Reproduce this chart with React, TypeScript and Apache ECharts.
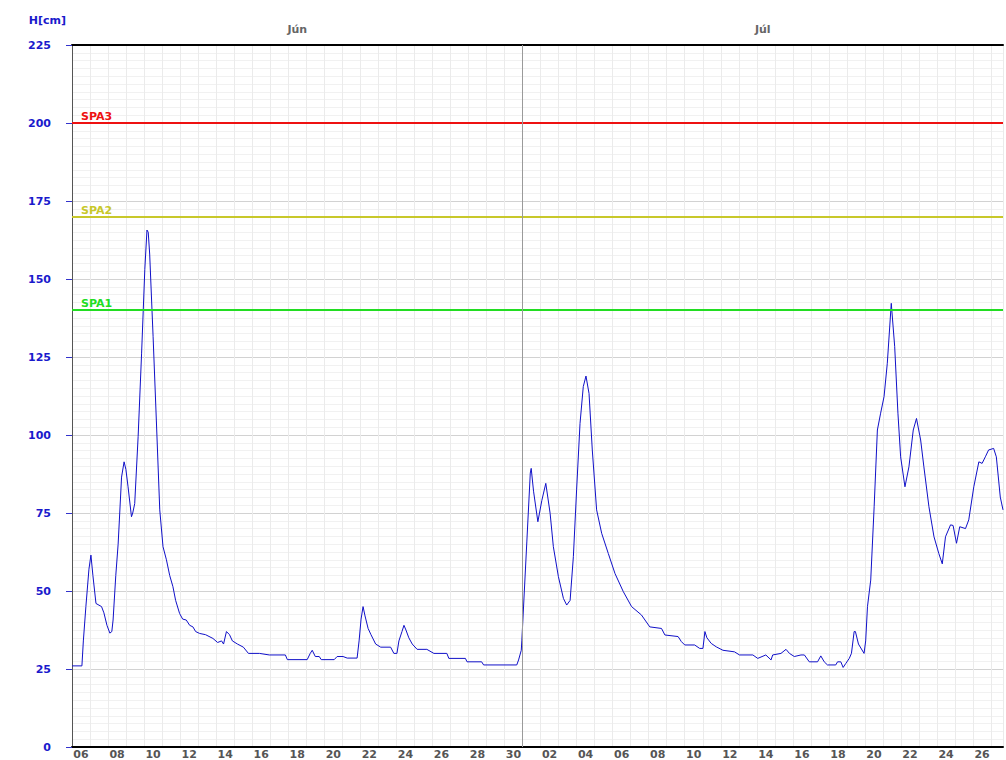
import React, { useEffect, useRef } from "react";
import * as echarts from "echarts";

// Time in days since 6 June 00:00, water level in cm
const dayOffsets = [
  0, 0.55, 0.63, 0.77, 0.94, 1.05, 1.16, 1.33, 1.64, 1.77, 1.94, 2.1, 2.21, 2.28, 2.43, 2.56, 2.75, 2.89, 2.99, 3.11,
  3.3, 3.37, 3.48, 3.67, 3.86, 4.04, 4.16, 4.23, 4.31, 4.5, 4.68, 4.87, 5.05, 5.24, 5.42, 5.6, 5.75, 5.97, 6.14, 6.34,
  6.53, 6.71, 6.86, 7.08, 7.41, 7.82, 8.08, 8.3, 8.41, 8.57, 8.74, 8.9, 9.18, 9.51, 9.79, 10.4, 10.95, 11.84, 11.95, 13.05,
  13.22, 13.33, 13.5, 13.72, 13.83, 14.55, 14.71, 15.04, 15.27, 15.82, 15.93, 16.04, 16.15, 16.26, 16.43, 16.59, 16.85, 17.13, 17.68, 17.86,
  18.03, 18.14, 18.31, 18.42, 18.53, 18.69, 18.88, 19.15, 19.69, 20.08, 20.8, 20.91, 21.83, 21.92, 22.73, 22.84, 24.68, 24.78, 24.93, 24.96,
  25.24, 25.43, 25.48, 25.61, 25.85, 26.07, 26.29, 26.53, 26.71, 26.99, 27.27, 27.45, 27.64, 27.82, 28.0, 28.19, 28.37, 28.52, 28.69, 28.87,
  29.11, 29.39, 29.76, 30.13, 30.59, 31.05, 31.6, 32.06, 32.71, 32.9, 33.63, 33.81, 34.0, 34.55, 34.83, 35.01, 35.12, 35.23, 35.47, 35.75,
  36.12, 36.76, 37.04, 37.78, 38.05, 38.5, 38.79, 38.88, 39.34, 39.62, 39.81, 40.08, 40.45, 40.64, 40.91, 41.37, 41.55, 41.74, 41.92, 42.38,
  42.48, 42.66, 42.79, 42.94, 43.13, 43.25, 43.4, 43.47, 43.64, 43.95, 44.04, 44.14, 44.32, 44.51, 44.69, 44.87, 45.06, 45.24, 45.46, 45.65,
  45.83, 45.98, 46.22, 46.44, 46.68, 46.86, 47.09, 47.27, 47.55, 47.83, 48.1, 48.29, 48.47, 48.75, 48.89, 49.08, 49.26, 49.58, 49.76, 50.04,
  50.32, 50.5, 50.68, 50.86, 51.14, 51.29, 51.51, 51.66,
];
const levelsCm = [
  26, 26, 34, 45, 57, 61.5, 55, 46, 45, 43, 39, 36.5, 37, 40.7, 55, 65, 86.5, 91.4, 89, 83.4,
  73.8, 75, 78, 99.5, 126, 153, 165.7, 165, 158, 131.5, 104.8, 76, 64.2, 60, 55, 51.4, 47, 42.8, 41, 40.7,
  39, 38.5, 37, 36.4, 36, 34.8, 33.5, 34, 33, 37, 36, 34, 33, 32, 30, 30, 29.5, 29.5, 28, 28,
  30, 31, 29, 29, 28, 28, 29, 29, 28.5, 28.5, 34, 41, 45, 42, 38, 36, 33, 32, 32, 30,
  30, 34, 37, 39, 37.5, 35, 33, 31.3, 31.3, 30, 30, 28.4, 28.4, 27.3, 27.3, 26.3, 26.3, 27.9, 31, 34,
  66, 87.8, 89.3, 82, 72.2, 79, 84.5, 74.9, 64.2, 54.6, 47.6, 45.5, 47, 61, 82.4, 103.7, 115.5, 118.9, 113.3, 95.2,
  76, 68.5, 62, 55.6, 49.8, 45, 42.3, 38.5, 38, 35.9, 35.4, 33.8, 32.7, 32.7, 31.6, 31.6, 37, 35, 33.2, 32.1,
  31, 30.5, 29.5, 29.5, 28.4, 29.5, 27.9, 29.5, 30, 31.3, 30, 29, 29.5, 29.5, 27.3, 27.3, 29.2, 27.3, 26.3, 26.3,
  27.3, 27.3, 25.5, 26.8, 28.4, 30, 37, 37, 33, 30, 34, 45, 53.5, 77, 101.6, 107, 112.3, 123, 142.2, 128.3,
  107, 93, 83.4, 89.8, 101.6, 105.3, 98.4, 89.8, 77, 67.4, 62, 58.7, 67.4, 71.2, 71, 65.3, 70.6, 70, 72.8, 83.4,
  91.4, 90.9, 93, 95.2, 95.7, 93, 80.1, 76,
];

// X axis tick labels (every second day, centred on the day)
const tickLabels = [
  "06", "08", "10", "12", "14", "16", "18", "20", "22", "24", "26", "28", "30",
  "02", "04", "06", "08", "10", "12", "14", "16", "18", "20", "22", "24", "26",
];
const months = ["Jún", "Júl"];
const monthStartDays = [0, 25];
const xMaxDays = 51.66;

const thresholdNames = ["SPA1", "SPA2", "SPA3"];
const thresholdValues = [140, 170, 200];

const yMin = 0;
const yMax = 225;
const yStep = 25;

const FONT = "DejaVu Sans";
const thresholdColors = ["#22dd22", "#c8c82a", "#ee1111"];

export default function App() {
  const ref = useRef<HTMLDivElement>(null);

  useEffect(() => {
    if (!ref.current) return;
    const chart = echarts.init(ref.current, undefined, { renderer: "svg" });

    const data = dayOffsets.map((d, i) => [d, levelsCm[i]]);

    const markData: any[] = thresholdValues.map((v, i) => ({
      yAxis: v,
      lineStyle: { color: thresholdColors[i], width: 2, type: "solid" },
      label: {
        show: true,
        formatter: thresholdNames[i],
        position: "insideStartTop",
        distance: [9, 1],
        color: thresholdColors[i],
        fontFamily: FONT,
        fontWeight: "bold",
        fontSize: 11,
      },
    }));
    markData.push({
      xAxis: monthStartDays[1],
      lineStyle: { color: "#9a9a9a", width: 1, type: "solid" },
      label: { show: false },
    });

    chart.setOption({
      animation: false,
      backgroundColor: "#ffffff",
      grid: { left: 72, right: 0, top: 45, bottom: 13, containLabel: false },
      xAxis: [
        {
          type: "value",
          min: 0,
          max: xMaxDays,
          interval: 1,
          position: "bottom",
          axisLine: { show: true, lineStyle: { color: "#000000", width: 2 } },
          axisTick: { show: false },
          axisLabel: { show: false },
          splitLine: { show: true, lineStyle: { color: "#ebebeb", width: 1 } },
        },
        {
          type: "value",
          min: 0,
          max: xMaxDays,
          interval: 0.5,
          position: "bottom",
          axisLine: { show: false },
          axisTick: { show: false },
          splitLine: { show: false },
          axisLabel: {
            show: true,
            margin: 2,
            color: "#555555",
            fontFamily: FONT,
            fontWeight: "bold",
            fontSize: 11,
            showMinLabel: true,
            showMaxLabel: true,
            formatter: (v: number) => {
              const d = v - 0.5;
              const n = Math.round(d);
              if (Math.abs(d - n) > 1e-6 || n % 2 !== 0) return "";
              return tickLabels[n / 2] ?? "";
            },
          },
        },
        {
          type: "value",
          min: 0,
          max: xMaxDays,
          position: "top",
          axisLine: { show: true, lineStyle: { color: "#000000", width: 2 } },
          axisTick: { show: false },
          axisLabel: { show: false },
          splitLine: { show: false },
        },
      ],
      yAxis: {
        type: "value",
        min: yMin,
        max: yMax,
        interval: yStep,
        name: "H[cm]",
        nameLocation: "end",
        nameGap: 25,
        nameTextStyle: {
          color: "#1a1acc",
          fontFamily: FONT,
          fontWeight: "bold",
          fontSize: 11,
          align: "right",
          verticalAlign: "middle",
          padding: [0, 6, 0, 0],
        },
        axisLine: { show: true, lineStyle: { color: "#555555", width: 1 } },
        axisTick: { show: true, length: 6, lineStyle: { color: "#3333cc", width: 1 } },
        axisLabel: {
          margin: 21,
          color: "#1a1acc",
          fontFamily: FONT,
          fontWeight: "bold",
          fontSize: 11,
        },
        splitLine: { show: true, lineStyle: { color: "#d2d2d2", width: 1 } },
        minorTick: { show: false, splitNumber: 10 },
        minorSplitLine: { show: true, lineStyle: { color: "#f1f1f1", width: 1 } },
      },
      series: [
        {
          type: "line",
          xAxisIndex: 0,
          yAxisIndex: 0,
          data,
          showSymbol: false,
          symbol: "none",
          lineStyle: { color: "#1010c8", width: 1 },
          markLine: {
            silent: true,
            symbol: "none",
            animation: false,
            data: markData,
          },
          z: 3,
        },
      ],
    });

    // Month labels centred over each month's visible span
    const monthEnds = [...monthStartDays.slice(1), xMaxDays];
    const graphics = months.map((m, i) => {
      const mid = (monthStartDays[i] + monthEnds[i]) / 2;
      const px = chart.convertToPixel({ xAxisIndex: 0 }, mid) as number;
      return {
        type: "text",
        x: px,
        y: 29,
        style: {
          text: m,
          fill: "#666666",
          font: `bold 11px "${FONT}"`,
          textAlign: "center",
          textVerticalAlign: "middle",
        },
      };
    });
    chart.setOption({ graphic: graphics });

    return () => chart.dispose();
  }, []);

  return (
    <div
      ref={ref}
      style={{ position: "fixed", left: 0, top: 0, width: 1006, height: 760, background: "#fff" }}
    />
  );
}
